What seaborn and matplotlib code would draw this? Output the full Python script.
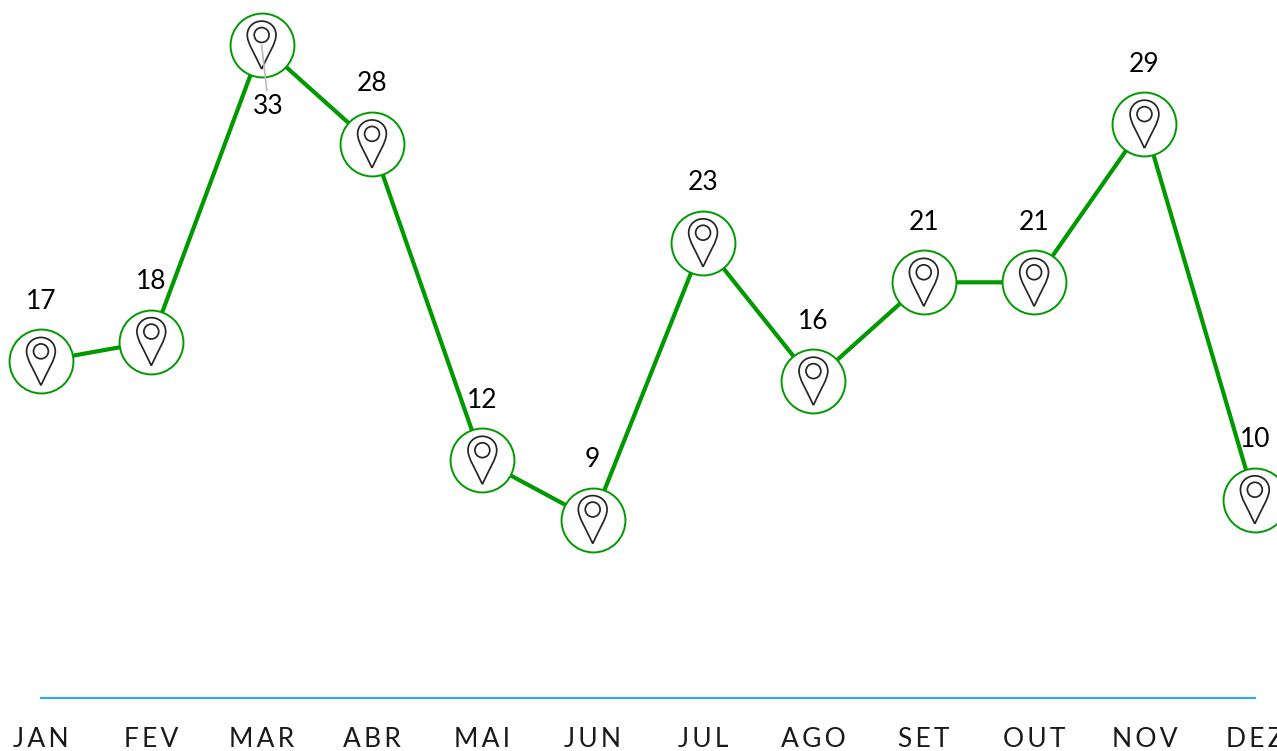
import matplotlib
matplotlib.use('Agg')

import matplotlib.pyplot as plt
import seaborn as sns
from matplotlib.markers import MarkerStyle
from matplotlib.path import Path

months = ["JAN", "FEV", "MAR", "ABR", "MAI", "JUN", "JUL", "AGO", "SET", "OUT", "NOV", "DEZ"]
values = [17, 18, 33, 28, 12, 9, 23, 16, 21, 21, 29, 10]

GREEN = '#009900'
BLUE = '#1FB0EC'

sns.set_theme(style="white")
plt.rcParams['font.family'] = ['Lato', 'DejaVu Sans']


def pin_marker():
    # teardrop outline plus the small ring inside it
    outer = Path(
        [(0, -1), (-0.28, -0.38), (-0.60, 0.08), (-0.60, 0.42),
         (-0.60, 0.76), (-0.33, 1), (0, 1),
         (0.33, 1), (0.60, 0.76), (0.60, 0.42),
         (0.60, 0.08), (0.28, -0.38), (0, -1)],
        [Path.MOVETO] + [Path.CURVE4] * 12,
    )
    ring = Path.circle((0, 0.42), 0.31)
    return MarkerStyle(Path.make_compound_path(outer, ring))


fig, ax = plt.subplots(figsize=(12.77, 7.51), dpi=100)
fig.subplots_adjust(left=0, right=1, top=1, bottom=0)

sns.lineplot(
    x=months, y=values, sort=False, ax=ax,
    color=GREEN, linewidth=3.0,
    marker='o', markersize=46, markerfacecolor='white',
    markeredgecolor=GREEN, markeredgewidth=1.4,
)
sns.scatterplot(
    x=months, y=values, ax=ax, marker=pin_marker(), s=1190,
    facecolors='none', edgecolors='#262626', linewidth=1.25, zorder=5,
)

# Value labels sit above the circles, only the peak goes below
for i, v in enumerate(values):
    if months[i] == "MAR":
        ax.annotate(
            str(v), (i, v), xytext=(5, -44), textcoords='offset points',
            ha='center', va='center', fontsize=19, color='black', zorder=6,
            arrowprops=dict(arrowstyle='-', color='#BBBBBB', lw=1.2, shrinkA=0, shrinkB=0),
        )
    else:
        ax.annotate(
            str(v), (i, v), xytext=(0, 43.2), textcoords='offset points',
            ha='center', va='center', fontsize=19, color='black', zorder=6,
        )

ax.set_xlim(-0.371, 11.201)
ax.set_ylim(-2.706, 35.28)
ax.set_xlabel("")
ax.set_ylabel("")
ax.set_yticks([])
ax.set_xticks(range(len(months)))
ax.set_xticklabels(["\u2009".join(m) for m in months])
ax.tick_params(axis='x', length=0, pad=21, labelsize=19, labelcolor='#1A1A1A')

for side in ['top', 'left', 'right']:
    ax.spines[side].set_visible(False)
ax.spines['bottom'].set_position(('data', 0))
ax.spines['bottom'].set_bounds(0, 11)
ax.spines['bottom'].set_color(BLUE)
ax.spines['bottom'].set_linewidth(1.5)

fig.savefig("out.png", dpi=100)
